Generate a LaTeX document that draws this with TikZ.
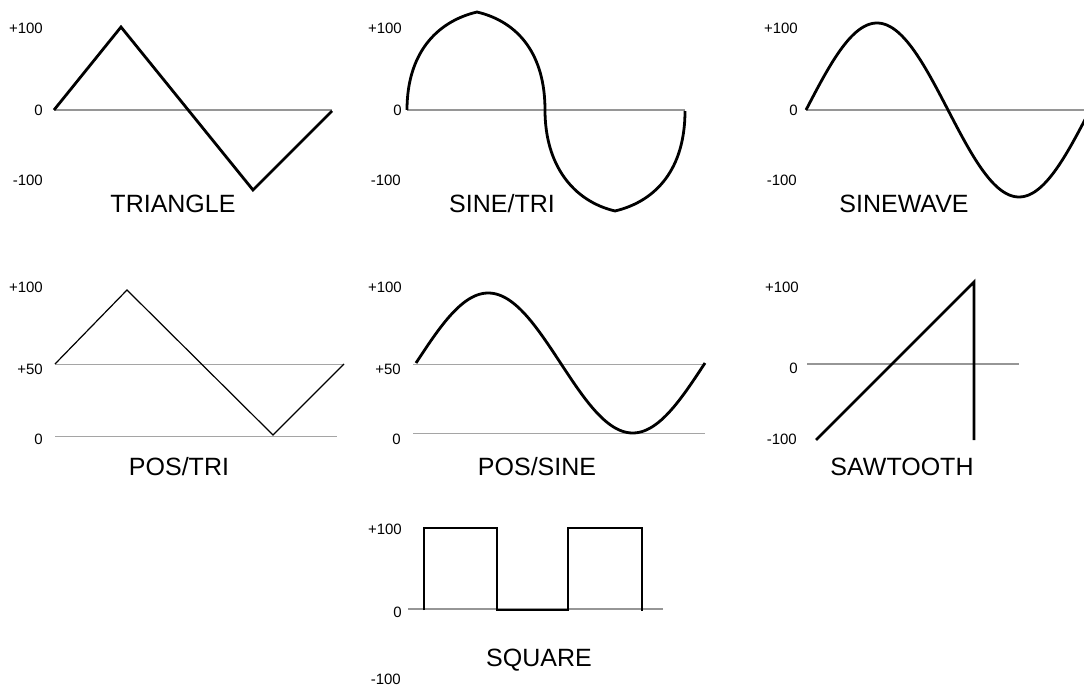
\documentclass[tikz,border=0pt]{standalone}
\usepackage{fontspec}
\setmainfont{Liberation Sans}
\definecolor{axisgray}{RGB}{150,150,150}
\definecolor{axislight}{RGB}{165,165,165}
\tikzset{
  axisline/.style={draw=axisgray, line width=1.4pt},
  lightaxis/.style={draw=axislight, line width=1pt},
  wave/.style={draw=black, line width=2.8pt, line join=miter},
  thinwave/.style={draw=black, line width=1.2pt},
  ylab/.style={anchor=east, inner sep=0pt, font=\fontsize{15}{18}\selectfont},
  wtitle/.style={inner sep=0pt, font=\fontsize{25}{30}\selectfont},
}
\begin{document}
\begin{tikzpicture}[x=1pt,y=-1pt]
\useasboundingbox (0,0) rectangle (1084,687);
\clip (0,0) rectangle (1084,687);

% ---------- TRIANGLE ----------
\node[ylab] (t1a) at (43,28) {+100};
\node[ylab] (t1b) at (43,110) {0};
\node[ylab] (t1c) at (43,180) {-100};
\draw[axisline] (54,110) -- (332,110);
\draw[wave] (54,110) -- (121,27) -- (253,190) -- (332,111);
\node[wtitle] (t1) at (173,204) {TRIANGLE};

% ---------- SINE/TRI ----------
\node[ylab] (t2a) at (402,28) {+100};
\node[ylab] (t2b) at (402,110) {0};
\node[ylab] (t2c) at (401,180) {-100};
\draw[axisline] (407,110) -- (685,110);
\draw[wave] (407,110) .. controls (407,55) and (435,22) .. (477,12)
  .. controls (519,22) and (545,55) .. (545,110)
  .. controls (545,165) and (573,201) .. (615,211)
  .. controls (657,201) and (685,168) .. (685,111);
\node[wtitle] (t2) at (502,204) {SINE/TRI};

% ---------- SINEWAVE ----------
\node[ylab] (t3a) at (798,28) {+100};
\node[ylab] (t3b) at (798,110) {0};
\node[ylab] (t3c) at (797,180) {-100};
\draw[axisline] (806,110) -- (1090,110);
\draw[wave] plot[domain=0:286, samples=120, smooth] ({806+\x}, {110-87*sin(\x/284*360)});
\node[wtitle] (t3) at (904,204) {SINEWAVE};

% ---------- POS/TRI ----------
\node[ylab] (t4a) at (43,287) {+100};
\node[ylab] (t4b) at (43,369) {+50};
\node[ylab] (t4c) at (43,439) {0};
\draw[lightaxis] (55,364) -- (344,364);
\draw[lightaxis] (55,436) -- (337,436);
\draw[thinwave] (55,364) -- (127,290) -- (273,435) -- (344,364);
\node[wtitle] (t4) at (179,467) {POS/TRI};

% ---------- POS/SINE ----------
\node[ylab] (t5a) at (402,287) {+100};
\node[ylab] (t5b) at (401,369) {+50};
\node[ylab] (t5c) at (401,439) {0};
\draw[lightaxis] (413,364) -- (705,364);
\draw[lightaxis] (413,433) -- (705,433);
\draw[wave] plot[domain=0:289, samples=120, smooth] ({416+\x}, {363-70*sin(\x/289*360)});
\node[wtitle] (t5) at (537,467) {POS/SINE};

% ---------- SAWTOOTH ----------
\node[ylab] (t6a) at (799,287) {+100};
\node[ylab] (t6b) at (798,368) {0};
\node[ylab] (t6c) at (797,439) {-100};
\draw[axisline] (807,364) -- (1019,364);
\draw[wave] (816,440) -- (974,282) -- (974,440);
\node[wtitle] (t6) at (902,467) {SAWTOOTH};

% ---------- SQUARE ----------
\node[ylab] (t7a) at (402,529) {+100};
\node[ylab] (t7b) at (402,612) {0};
\node[ylab] (t7c) at (401,679) {-100};
\draw[axisline] (408,609) -- (663,609);
\draw[wave] (424,610) -- (424,528) -- (497,528) -- (497,610) -- (568,610)
  -- (568,528) -- (642,528) -- (642,611);
\node[wtitle] (t7) at (539,660) {SQUARE};
\end{tikzpicture}
\end{document}
